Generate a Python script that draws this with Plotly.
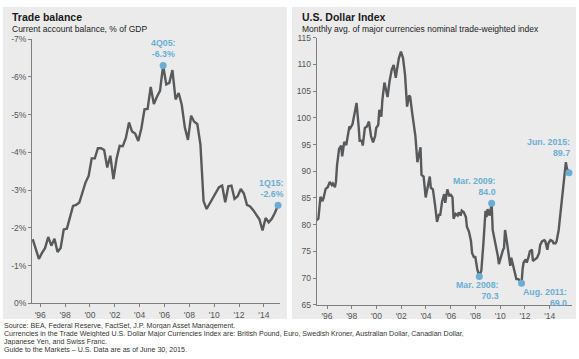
import pandas as pd
import plotly.graph_objects as go

W, H = 579, 359
FONT = "Arial, Liberation Sans, sans-serif"
LINE = "#58595b"
BLUE = "#6aaed6"
PANEL = "#ebebeb"

# ---------------- Trade balance (quarterly, 2Q95 .. 1Q15) ----------------
tb_start, tb_end = "1995Q2", "2015Q1"
tb_values = [
    -1.70, -1.45, -1.18, -1.34, -1.47, -1.76, -1.53, -1.71, -1.36, -1.47,
    -1.96, -1.98, -2.28, -2.58, -2.61, -2.67, -2.93, -3.20, -3.37, -3.84,
    -3.84, -4.11, -4.11, -4.06, -3.60, -3.91, -3.29, -3.83, -4.17, -4.16,
    -4.38, -4.79, -4.55, -4.50, -4.30, -4.64, -5.14, -5.15, -5.73, -5.28,
    -5.47, -5.63, -6.30, -5.80, -5.84, -6.18, -5.40, -5.57, -5.26, -4.66,
    -4.33, -4.97, -4.81, -4.75, -4.21, -2.71, -2.50, -2.65, -2.80, -2.94,
    -3.08, -3.12, -2.68, -3.10, -3.12, -2.77, -2.84, -3.03, -2.91, -2.61,
    -2.57, -2.47, -2.34, -2.23, -1.93, -2.26, -2.15, -2.24, -2.40, -2.60,
]
tb_periods = pd.period_range(tb_start, tb_end, freq="Q")
tb_dates = [p.start_time.strftime("%Y-%m-%d") for p in tb_periods]
tb_labels = [f"{p.quarter}Q{str(p.year)[2:]}" for p in tb_periods]
tb_ticks = [0, -1, -2, -3, -4, -5, -6, -7]
tb_ticktext = ["0%", "-1%", "-2%", "-3%", "-4%", "-5%", "-6%", "-7%"]
tb_callouts = [("4Q05", "4Q05:<br>-6.3%"), ("1Q15", "1Q15:<br>-2.6%")]

# ---------------- U.S. Dollar Index (monthly) ----------------
usd_dates = [
    "1995-01", "1995-03", "1995-05", "1995-07", "1995-08", "1995-10", "1995-12",
    "1996-02", "1996-04", "1996-05", "1996-07", "1996-08", "1996-09", "1996-11",
    "1997-01", "1997-02", "1997-04", "1997-06", "1997-09", "1997-10", "1997-12",
    "1998-02", "1998-04", "1998-06", "1998-07", "1998-09", "1998-10", "1998-12",
    "1999-02", "1999-04", "1999-06", "1999-08", "1999-10", "1999-11",
    "2000-01", "2000-02", "2000-04", "2000-05", "2000-07", "2000-09", "2000-10", "2000-12",
    "2001-02", "2001-04", "2001-06", "2001-07", "2001-09", "2001-11",
    "2002-01", "2002-03", "2002-04", "2002-05", "2002-07", "2002-08", "2002-10", "2002-12",
    "2003-01", "2003-03", "2003-04", "2003-06", "2003-07", "2003-09", "2003-11", "2003-12",
    "2004-03", "2004-04", "2004-06", "2004-08", "2004-10", "2004-12",
    "2005-01", "2005-03", "2005-05", "2005-06", "2005-08", "2005-10", "2005-11",
    "2006-01", "2006-02", "2006-04", "2006-06", "2006-07", "2006-09", "2006-10", "2006-12",
    "2007-02", "2007-03", "2007-05", "2007-07", "2007-08", "2007-10", "2007-11",
    "2008-01", "2008-03", "2008-05", "2008-07", "2008-09", "2008-10", "2008-11",
    "2009-01", "2009-03", "2009-04", "2009-06", "2009-07", "2009-09", "2009-10", "2009-12",
    "2010-02", "2010-03", "2010-04", "2010-06", "2010-08", "2010-09", "2010-10", "2010-12",
    "2011-02", "2011-03", "2011-05", "2011-08", "2011-09", "2011-10", "2011-12",
    "2012-01", "2012-03", "2012-04", "2012-06", "2012-07", "2012-09", "2012-11",
    "2013-01", "2013-02", "2013-04", "2013-06", "2013-07", "2013-09", "2013-10", "2013-12",
    "2014-02", "2014-03", "2014-05", "2014-06", "2014-08", "2014-10", "2014-11",
    "2015-01", "2015-03", "2015-04", "2015-06",
]
usd_values = [
    80.8, 81.1, 85.2, 84.4, 85.0, 86.7, 87.0,
    88.0, 87.4, 87.7, 87.0, 88.1, 91.1, 94.2,
    94.8, 92.8, 95.5, 94.9, 98.4, 98.1, 98.8,
    100.7, 102.8, 98.4, 95.7, 95.7, 94.8, 98.1,
    98.4, 99.3, 96.6, 95.4, 96.6, 98.1,
    98.7, 101.5, 100.2, 103.3, 106.6, 104.8, 103.9, 106.9,
    109.0, 109.9, 107.5, 108.8, 111.2, 112.4,
    111.2, 108.1, 105.1, 102.1, 104.2, 103.9, 100.8, 97.5,
    96.6, 91.7, 92.9, 94.5, 89.3, 89.0, 85.1, 86.0,
    89.0, 86.9, 86.6, 83.8, 80.5, 82.0,
    81.7, 84.4, 85.7, 84.1, 86.6, 85.3, 85.7,
    85.1, 81.1, 82.0, 81.7, 82.3, 81.7, 82.6, 82.3,
    81.4, 79.6, 78.7, 76.9, 74.7, 73.8, 74.1,
    71.7, 70.3, 71.4, 76.5, 82.6, 81.4, 82.9,
    81.7, 84.0, 79.0, 77.1, 75.9, 74.1, 72.6, 74.1,
    75.3, 75.6, 79.0, 76.5, 74.1, 72.3, 73.8, 72.0,
    70.2, 69.8, 69.8, 69.0, 71.7, 72.9, 73.5,
    72.9, 74.1, 75.0, 75.3, 73.2, 73.5, 73.8,
    74.7, 76.2, 76.9, 77.1, 76.9, 75.3, 76.5, 77.1,
    76.9, 76.5, 76.5, 76.9, 79.0, 82.6, 85.1,
    88.7, 91.7, 90.5, 89.7,
]
usd_ticks = [115, 110, 105, 100, 95, 90, 85, 80, 75, 70, 65]
usd_callouts = [
    ("2009-03", "Mar. 2009:<br>84.0"),
    ("2008-03", "Mar. 2008:<br>70.3"),
    ("2011-08", "Aug. 2011:<br>69.0"),
    ("2015-06", "Jun. 2015:<br>89.7"),
]

year_ticks = [1996, 1998, 2000, 2002, 2004, 2006, 2008, 2010, 2012, 2014]
year_ticktext = ["'" + str(y)[2:] for y in year_ticks]
year_tickvals = [f"{y - 1}-11-10" for y in year_ticks]

titles = ["Trade balance", "U.S. Dollar Index"]
subtitles = ["Current account balance, % of GDP",
             "Monthly avg. of major currencies nominal trade-weighted index"]
footnotes = [
    "Source: BEA, Federal Reserve, FactSet, J.P. Morgan Asset Management.",
    "Currencies in the Trade Weighted U.S. Dollar Major Currencies Index are: British Pound, Euro, Swedish Kroner, Australian Dollar, Canadian Dollar,",
    "Japanese Yen, and Swiss Franc.",
    "Guide to the Markets \u2013 U.S. Data are as of June 30, 2015.",
]


def px(x):
    return x / W


def py(y):
    return 1 - y / H


fig = go.Figure()

fig.add_trace(go.Scatter(x=tb_dates, y=tb_values, mode="lines",
                         line=dict(color=LINE, width=2.4),
                         xaxis="x", yaxis="y", hoverinfo="skip"))
tb_idx = [tb_labels.index(q) for q, _ in tb_callouts]
fig.add_trace(go.Scatter(x=[tb_dates[i] for i in tb_idx],
                         y=[tb_values[i] for i in tb_idx], mode="markers",
                         marker=dict(color=BLUE, size=7), cliponaxis=False,
                         xaxis="x", yaxis="y", hoverinfo="skip"))

fig.add_trace(go.Scatter(x=usd_dates, y=usd_values, mode="lines",
                         line=dict(color=LINE, width=2.4),
                         xaxis="x2", yaxis="y2", hoverinfo="skip"))
usd_idx = [usd_dates.index(d) for d, _ in usd_callouts]
fig.add_trace(go.Scatter(x=[usd_dates[i] for i in usd_idx],
                         y=[usd_values[i] for i in usd_idx], mode="markers",
                         marker=dict(color=BLUE, size=7), cliponaxis=False,
                         xaxis="x2", yaxis="y2", hoverinfo="skip"))

axis_common = dict(showgrid=False, zeroline=False, showline=True,
                   linecolor="#7f7f7f", linewidth=1, ticks="outside",
                   ticklen=3, tickcolor="#7f7f7f", tickwidth=1,
                   tickfont=dict(family=FONT, size=8.5, color="#555555"))

fig.update_layout(
    width=W, height=H, autosize=False,
    margin=dict(l=0, r=0, t=0, b=0),
    paper_bgcolor="white", plot_bgcolor="rgba(0,0,0,0)",
    showlegend=False,
    xaxis=dict(domain=[px(32), px(280)], anchor="y", type="date",
               range=["1995-03-12", "2015-02-27"],
               tickvals=year_tickvals, ticktext=year_ticktext, **axis_common),
    yaxis=dict(domain=[py(307), py(35)], anchor="x", range=[0, -7],
               tickvals=tb_ticks, ticktext=tb_ticktext, **axis_common),
    xaxis2=dict(domain=[px(316.7), px(572)], anchor="y2", type="date",
                range=["1995-01-10", "2015-08-29"],
                tickvals=year_tickvals, ticktext=year_ticktext, **axis_common),
    yaxis2=dict(domain=[py(308.3), py(33.7)], anchor="x2", range=[65, 115],
                tickvals=usd_ticks, **axis_common),
)

# panel backgrounds
for x0, x1 in [(3, 287), (292, 576)]:
    fig.add_shape(type="rect", xref="paper", yref="paper",
                  x0=px(x0), x1=px(x1), y0=py(323), y1=py(2),
                  fillcolor=PANEL, line=dict(width=0), layer="below")

# titles & subtitles
for tx, t, s in [(10, titles[0], subtitles[0]), (300, titles[1], subtitles[1])]:
    fig.add_annotation(xref="paper", yref="paper", x=px(tx), y=py(12.5),
                       text=f"<b>{t}</b>", showarrow=False, xanchor="left",
                       yanchor="middle",
                       font=dict(family=FONT, size=10.5, color="#1a1a1a"))
    fig.add_annotation(xref="paper", yref="paper", x=px(tx), y=py(24.5),
                       text=s, showarrow=False, xanchor="left", yanchor="middle",
                       font=dict(family=FONT, size=8.5, color="#222222"))

ann_font = dict(family=FONT, size=8.8, color=BLUE)

# trade balance callouts
tb_offsets = [dict(xanchor="center", yanchor="bottom", xshift=0, yshift=4, align="center"),
              dict(xanchor="right", yanchor="bottom", xshift=8, yshift=4, align="right")]
for (q, txt), i, off in zip(tb_callouts, tb_idx, tb_offsets):
    fig.add_annotation(xref="x", yref="y", x=tb_dates[i], y=tb_values[i],
                       text=f"<b>{txt}</b>", showarrow=False, font=ann_font, **off)

usd_offsets = [
    dict(xanchor="right", yanchor="bottom", xshift=6, yshift=4),
    dict(xanchor="right", yanchor="top", xshift=22, yshift=-2),
    dict(xanchor="right", yanchor="top", xshift=47, yshift=-2),
    dict(xanchor="right", yanchor="bottom", xshift=3, yshift=13),
]
for (d, txt), i, off in zip(usd_callouts, usd_idx, usd_offsets):
    fig.add_annotation(xref="x2", yref="y2", x=usd_dates[i], y=usd_values[i],
                       text=f"<b>{txt}</b>", showarrow=False, font=ann_font,
                       align="right", **off)

# footnotes
for k, line in enumerate(footnotes):
    fig.add_annotation(xref="paper", yref="paper", x=px(3), y=py(329.6 + 8.1 * k),
                       text=line, showarrow=False, xanchor="left", yanchor="middle",
                       height=7, borderpad=0, valign="middle",
                       font=dict(family=FONT, size=7.1, color="#333333"))

fig.write_html("out.html", config={"displayModeBar": False},
               post_script="document.body.style.margin='0';")
